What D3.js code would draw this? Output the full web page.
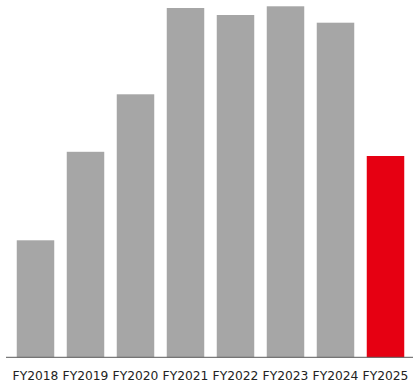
<!DOCTYPE html>
<html>
<head>
<meta charset="utf-8">
<script src="https://cdn.jsdelivr.net/npm/d3@7"></script>
<style>
html,body{margin:0;padding:0;background:#fff;}
svg{display:block;}
</style>
</head>
<body>
<svg id="chart" width="413" height="383"></svg>
<script>
const categories = ["FY2018","FY2019","FY2020","FY2021","FY2022","FY2023","FY2024","FY2025"];
const values = [117, 205.5, 263, 349.3, 342.3, 351, 334.6, 201.3];
const highlight = ["FY2025"];

const svg = d3.select("#chart");
const baseY = 357.3;
const x = d3.scaleBand().domain(categories).range([10.5, 410.5]).paddingInner(0.25).paddingOuter(0.125);
const y = d3.scaleLinear().domain([0, 357.3]).range([baseY, 0]);

svg.append("g").selectAll("rect").data(categories).join("rect")
  .attr("x", d => x(d))
  .attr("width", x.bandwidth())
  .attr("y", (d, i) => y(values[i]))
  .attr("height", (d, i) => baseY - y(values[i]))
  .attr("fill", d => highlight.includes(d) ? "#e60012" : "#a6a6a6");

svg.append("line")
  .attr("x1", 6).attr("x2", 413)
  .attr("y1", baseY).attr("y2", baseY)
  .attr("stroke", "#595959").attr("stroke-width", 1);

const axis = d3.axisBottom(x).tickSize(0).tickPadding(0);
const g = svg.append("g").attr("transform", `translate(0,${baseY})`).call(axis);
g.select(".domain").remove();
g.selectAll("text")
  .attr("dy", 0).attr("y", 22.7)
  .attr("font-family", "DejaVu Sans, Verdana, sans-serif")
  .attr("font-size", 12.3)
  .attr("fill", "#222");
</script>
</body>
</html>
